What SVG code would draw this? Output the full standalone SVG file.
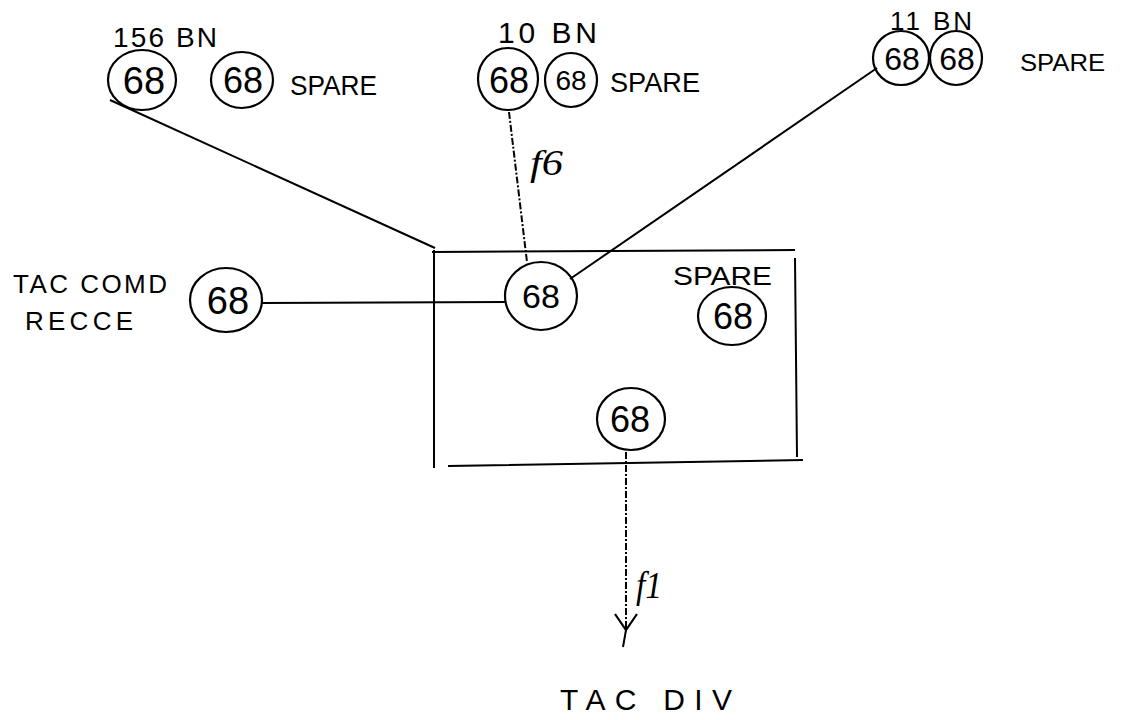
<svg xmlns="http://www.w3.org/2000/svg" width="1122" height="720" viewBox="0 0 1122 720">
<style>
.c{fill:none;stroke:#000;stroke-width:2.2}
.n{font-family:"Liberation Sans",Arial,sans-serif;fill:#000;text-anchor:middle}
.t{font-family:"Liberation Sans",Arial,sans-serif;fill:#000}
.f{font-family:"Liberation Serif","Times New Roman",serif;font-style:italic;fill:#000}
.l{fill:none;stroke:#000;stroke-width:2}
.d{fill:none;stroke:#000;stroke-width:2;stroke-dasharray:7 2 2 2}
</style>
<defs>
<marker id="v" viewBox="0 0 20 24" refX="18" refY="12" markerWidth="20" markerHeight="24" markerUnits="userSpaceOnUse" orient="auto">
<path d="M2,1 L18,12 L2,23" fill="none" stroke="#000" stroke-width="2.2"/>
</marker>
</defs>
<rect width="1122" height="720" fill="#fff"/>
<g id="connectors">
<path class="l" d="M110,100 L435,248"/>
<path class="d" d="M509,112 L527,262"/>
<path class="l" d="M877,68 L570,279"/>
<path class="l" d="M262,303 L505,302"/>
<path class="d" d="M626,452 L626,630" marker-end="url(#v)"/>
<path class="l" d="M626,630 L623,647"/>
<text class="f" x="530" y="175" font-size="36" textLength="33" lengthAdjust="spacingAndGlyphs">f6</text>
<text class="f" x="636" y="598" font-size="38" textLength="26" lengthAdjust="spacingAndGlyphs">f1</text>
</g>
<g id="hq-box">
<path class="l" d="M434,250 L434,468 M432,252 L795,250 M795,258 L797,457 M448,466 L803,460"/>
<text class="t" x="673" y="285" font-size="26" textLength="99" lengthAdjust="spacingAndGlyphs">SPARE</text>
</g>
<g id="bn156">
<text class="t" x="113" y="47" font-size="28" textLength="104" lengthAdjust="spacing">156 BN</text>
<ellipse class="c" cx="142" cy="80" rx="34" ry="30"/>
<text class="n" x="144" y="94" font-size="38">68</text>
</g>
<g id="bn156-spare">
<ellipse class="c" cx="242" cy="80" rx="31" ry="28"/>
<text class="n" x="243" y="93" font-size="36">68</text>
<text class="t" x="290" y="95" font-size="27" textLength="87" lengthAdjust="spacingAndGlyphs">SPARE</text>
</g>
<g id="bn10">
<text class="t" x="498" y="43" font-size="30" textLength="99" lengthAdjust="spacing">10 BN</text>
<ellipse class="c" cx="508" cy="79" rx="30" ry="31"/>
<text class="n" x="509" y="93" font-size="36">68</text>
</g>
<g id="bn10-spare">
<ellipse class="c" cx="571" cy="80" rx="26" ry="27"/>
<text class="n" x="571" y="90" font-size="28">68</text>
<text class="t" x="610" y="92" font-size="28" textLength="90" lengthAdjust="spacingAndGlyphs">SPARE</text>
</g>
<g id="bn11">
<text class="t" x="890" y="30" font-size="26" textLength="82" lengthAdjust="spacing">11 BN</text>
<ellipse class="c" cx="901" cy="58" rx="28" ry="27"/>
<text class="n" x="902" y="70" font-size="32">68</text>
</g>
<g id="bn11-spare">
<ellipse class="c" cx="956" cy="58" rx="26" ry="27"/>
<text class="n" x="957" y="70" font-size="32">68</text>
<text class="t" x="1020" y="71" font-size="24" textLength="85" lengthAdjust="spacingAndGlyphs">SPARE</text>
</g>
<g id="tac-comd-recce">
<text class="t" x="13" y="293" font-size="26" textLength="154" lengthAdjust="spacing">TAC COMD</text>
<text class="t" x="25" y="330" font-size="26" textLength="108" lengthAdjust="spacing">RECCE</text>
<ellipse class="c" cx="226" cy="300" rx="36" ry="32"/>
<text class="n" x="228" y="314" font-size="38">68</text>
</g>
<g id="hq-main">
<ellipse class="c" cx="541" cy="296" rx="36" ry="34"/>
<text class="n" x="541" y="308" font-size="34">68</text>
</g>
<g id="hq-spare">
<ellipse class="c" cx="732" cy="316" rx="34" ry="29"/>
<text class="n" x="733" y="329" font-size="36">68</text>
</g>
<g id="hq-rear">
<ellipse class="c" cx="631" cy="419" rx="34" ry="31"/>
<text class="n" x="630" y="432" font-size="36">68</text>
</g>
<g id="tac-div">
<text class="t" x="560" y="710" font-size="30" textLength="172" lengthAdjust="spacing">TAC DIV</text>
</g>
</svg>
